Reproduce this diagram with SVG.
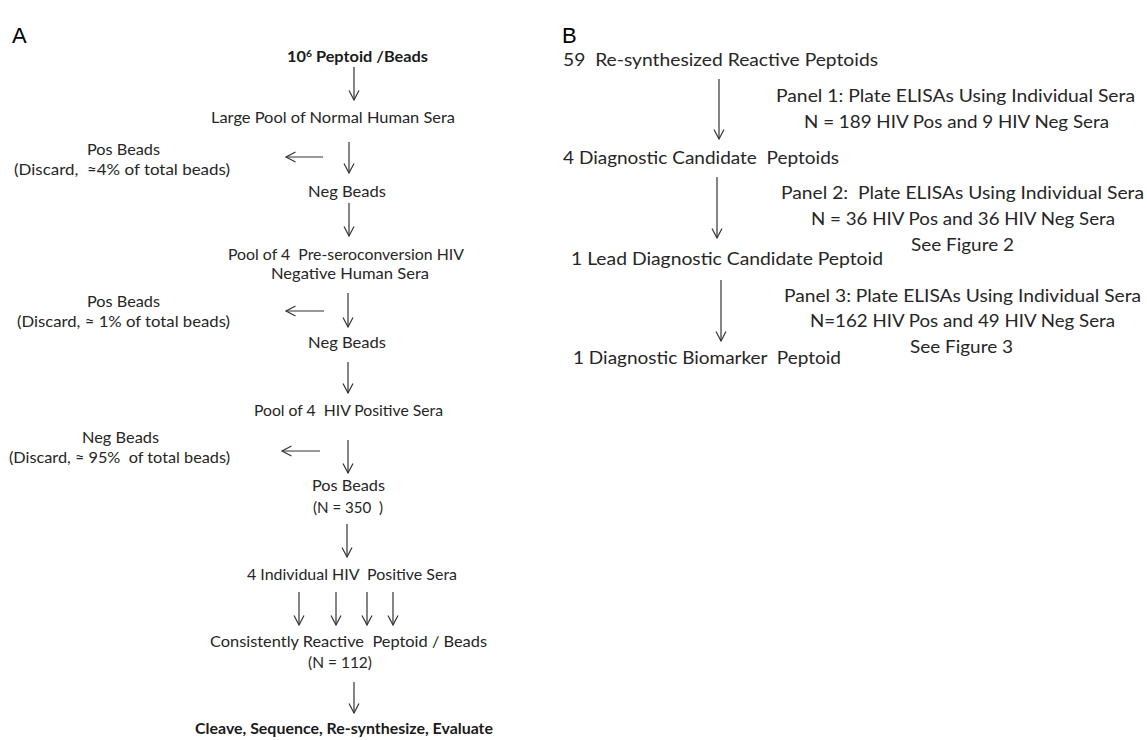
<svg xmlns="http://www.w3.org/2000/svg" width="1147" height="740" viewBox="0 0 1147 740">
<style>
text{font-family:Lato,"Liberation Sans",sans-serif;fill:#262626;white-space:pre}
.a{font-size:15px}
.b{font-size:17.5px}
.bold{font-size:15px;font-weight:bold;fill:#1a1a1a}
.lab{font-family:"Liberation Sans",Arial,sans-serif;font-size:22px;fill:#000}
.c{fill:none;stroke:#333;stroke-width:1.2}
</style>
<defs>
<marker id="ah" viewBox="0 0 12 12" refX="10" refY="6" markerWidth="12" markerHeight="12" markerUnits="userSpaceOnUse" orient="auto">
<path d="M0.5,1 L10,6 L0.5,11" fill="none" stroke="#333" stroke-width="1.2"/>
</marker>
</defs>
<rect width="1147" height="740" fill="#fff"/>
<text class="lab" x="12" y="43">A</text>
<text class="lab" x="562" y="43">B</text>

<g id="connectors">
<path class="c" marker-end="url(#ah)" d="M354,67V100"/>
<path class="c" marker-end="url(#ah)" d="M349,142V173"/>
<path class="c" marker-end="url(#ah)" d="M323,157H286"/>
<path class="c" marker-end="url(#ah)" d="M349,203V236"/>
<path class="c" marker-end="url(#ah)" d="M348,293V327"/>
<path class="c" marker-end="url(#ah)" d="M324,311H286"/>
<path class="c" marker-end="url(#ah)" d="M348,362V393"/>
<path class="c" marker-end="url(#ah)" d="M348,440V473"/>
<path class="c" marker-end="url(#ah)" d="M320,451H282"/>
<path class="c" marker-end="url(#ah)" d="M347,524V557"/>
<path class="c" marker-end="url(#ah)" d="M299,592V625"/>
<path class="c" marker-end="url(#ah)" d="M336,592V625"/>
<path class="c" marker-end="url(#ah)" d="M367,592V625"/>
<path class="c" marker-end="url(#ah)" d="M393,592V625"/>
<path class="c" marker-end="url(#ah)" d="M354,682V713"/>
<path class="c" marker-end="url(#ah)" d="M719,79V139"/>
<path class="c" marker-end="url(#ah)" d="M717,177V238"/>
<path class="c" marker-end="url(#ah)" d="M721,280V341"/>
</g>

<g id="n-start"><text class="bold" x="287" y="62" textLength="141" lengthAdjust="spacingAndGlyphs">10<tspan font-size="9.5" dy="-5.5">6</tspan><tspan dy="5.5"> Peptoid /Beads</tspan></text></g>
<g id="n-largepool"><text class="a" x="211" y="123" textLength="244" lengthAdjust="spacingAndGlyphs">Large Pool of Normal Human Sera</text></g>
<g id="n-discard1"><text class="a" x="87" y="155" textLength="73" lengthAdjust="spacingAndGlyphs">Pos Beads</text><text class="a" x="14" y="175" textLength="216" lengthAdjust="spacingAndGlyphs">(Discard,  ≈4% of total beads)</text></g>
<g id="n-neg1"><text class="a" x="308" y="197" textLength="78" lengthAdjust="spacingAndGlyphs">Neg Beads</text></g>
<g id="n-preseroconv"><text class="a" x="228" y="260" textLength="236" lengthAdjust="spacingAndGlyphs">Pool of 4  Pre-seroconversion HIV</text><text class="a" x="271" y="279" textLength="158" lengthAdjust="spacingAndGlyphs">Negative Human Sera</text></g>
<g id="n-discard2"><text class="a" x="87" y="307" textLength="73" lengthAdjust="spacingAndGlyphs">Pos Beads</text><text class="a" x="17" y="327" textLength="213" lengthAdjust="spacingAndGlyphs">(Discard, ≈ 1% of total beads)</text></g>
<g id="n-neg2"><text class="a" x="308" y="348" textLength="78" lengthAdjust="spacingAndGlyphs">Neg Beads</text></g>
<g id="n-hivpos"><text class="a" x="254" y="416" textLength="189" lengthAdjust="spacingAndGlyphs">Pool of 4  HIV Positive Sera</text></g>
<g id="n-discard3"><text class="a" x="82" y="443" textLength="77" lengthAdjust="spacingAndGlyphs">Neg Beads</text><text class="a" x="9" y="463" textLength="221" lengthAdjust="spacingAndGlyphs">(Discard, ≈ 95%  of total beads)</text></g>
<g id="n-pos"><text class="a" x="312" y="491" textLength="73" lengthAdjust="spacingAndGlyphs">Pos Beads</text><text class="a" x="313" y="513" textLength="70" lengthAdjust="spacingAndGlyphs">(N = 350  )</text></g>
<g id="n-individual"><text class="a" x="247" y="580" textLength="210" lengthAdjust="spacingAndGlyphs">4 Individual HIV  Positive Sera</text></g>
<g id="n-consistent"><text class="a" x="210" y="647" textLength="277" lengthAdjust="spacingAndGlyphs">Consistently Reactive  Peptoid / Beads</text><text class="a" x="308" y="668" textLength="64" lengthAdjust="spacingAndGlyphs">(N = 112)</text></g>
<g id="n-cleave"><text class="bold" x="195" y="734" textLength="298" lengthAdjust="spacingAndGlyphs">Cleave, Sequence, Re-synthesize, Evaluate</text></g>

<g id="b-59"><text class="b" x="563" y="66" textLength="315" lengthAdjust="spacingAndGlyphs">59  Re-synthesized Reactive Peptoids</text></g>
<g id="b-panel1"><text class="b" x="776" y="102" textLength="359" lengthAdjust="spacingAndGlyphs">Panel 1: Plate ELISAs Using Individual Sera</text><text class="b" x="804" y="128" textLength="305" lengthAdjust="spacingAndGlyphs">N = 189 HIV Pos and 9 HIV Neg Sera</text></g>
<g id="b-4diag"><text class="b" x="563" y="164" textLength="276" lengthAdjust="spacingAndGlyphs">4 Diagnostic Candidate  Peptoids</text></g>
<g id="b-panel2"><text class="b" x="781" y="199" textLength="363" lengthAdjust="spacingAndGlyphs">Panel 2:  Plate ELISAs Using Individual Sera</text><text class="b" x="811" y="225" textLength="304" lengthAdjust="spacingAndGlyphs">N = 36 HIV Pos and 36 HIV Neg Sera</text><text class="b" x="911" y="251" textLength="103" lengthAdjust="spacingAndGlyphs">See Figure 2</text></g>
<g id="b-lead"><text class="b" x="571" y="265" textLength="312" lengthAdjust="spacingAndGlyphs">1 Lead Diagnostic Candidate Peptoid</text></g>
<g id="b-panel3"><text class="b" x="784" y="302" textLength="357" lengthAdjust="spacingAndGlyphs">Panel 3: Plate ELISAs Using Individual Sera</text><text class="b" x="810" y="327" textLength="305" lengthAdjust="spacingAndGlyphs">N=162 HIV Pos and 49 HIV Neg Sera</text><text class="b" x="910" y="353" textLength="103" lengthAdjust="spacingAndGlyphs">See Figure 3</text></g>
<g id="b-biomarker"><text class="b" x="573" y="364" textLength="268" lengthAdjust="spacingAndGlyphs">1 Diagnostic Biomarker  Peptoid</text></g>
</svg>
